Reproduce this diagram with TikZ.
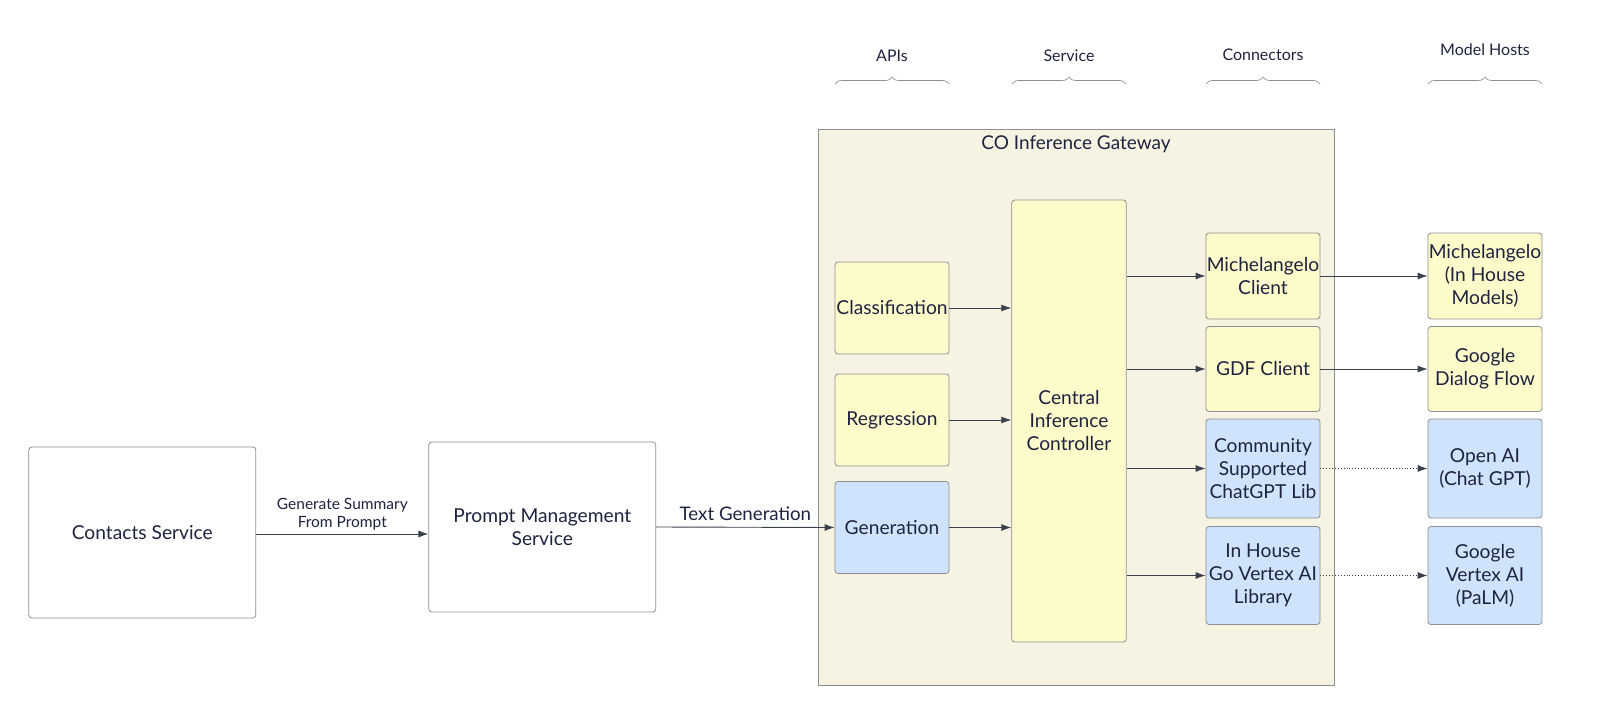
\documentclass[tikz,border=0pt]{standalone}
\usepackage{fontspec}
\setmainfont{Lato}
\usetikzlibrary{arrows.meta,decorations.pathreplacing,calc}
\definecolor{boxline}{HTML}{8C8F94}
\definecolor{yfill}{HTML}{FEFBCB}
\definecolor{bfill}{HTML}{CFE3FD}
\definecolor{gwfill}{HTML}{F7F3E3}
\definecolor{txt}{HTML}{1E2340}
\definecolor{arr}{HTML}{3B414C}
\tikzset{
  box/.style={draw=boxline, line width=0.8pt, rounded corners=3pt, align=center, text=txt,
    font=\fontsize{19.2}{23}\selectfont, inner sep=0pt},
  ybox/.style={box, fill=yfill},
  bbox/.style={box, fill=bfill},
  wbox/.style={box, fill=white},
  conn/.style={draw=arr, line width=0.9pt, -{Latex[length=10pt,width=7pt]}},
  dconn/.style={draw=arr, line width=0.9pt, dotted, -{Latex[length=10pt,width=7pt,sep=0pt]}},
  hdr/.style={text=txt, font=\fontsize{16}{18}\selectfont},
  brc/.style={draw=boxline, line width=0.7pt, decorate, decoration={brace, amplitude=7pt}},
}
\begin{document}
\begin{tikzpicture}[x=1pt,y=-1pt]
\useasboundingbox (0,0) rectangle (1600,714);
% gateway
\node[draw=boxline, line width=0.8pt, fill=gwfill, minimum width=516pt, minimum height=556pt, inner sep=0pt] (gw) at (1076,407) {};
\node[text=txt, font=\fontsize{19}{22}\selectfont] (gwtitle) at (1076,144) {CO Inference Gateway};
% left boxes
\node[wbox, minimum width=227pt, minimum height=171pt] (contacts) at (142.3,532.5) {Contacts Service};
\node[wbox, minimum width=227pt, minimum height=170pt] (prompt) at (542.3,527) {Prompt Management\\Service};
% APIs
\node[ybox, minimum width=114pt, minimum height=92pt] (cls) at (892,308) {Classification};
\node[ybox, minimum width=114pt, minimum height=92pt] (reg) at (892,420) {Regression};
\node[bbox, minimum width=114pt, minimum height=92pt] (gen) at (892,527.5) {Generation};
% central
\node[ybox, minimum width=114.5pt, minimum height=442pt] (cic) at (1069,421) {Central\\Inference\\Controller};
% connectors
\node[ybox, minimum width=114pt, minimum height=86pt] (mc) at (1263,276) {Michelangelo\\Client};
\node[ybox, minimum width=114pt, minimum height=85pt] (gdf) at (1263,369) {GDF Client};
\node[bbox, minimum width=114pt, minimum height=99pt] (csl) at (1263,468.5) {Community\\Supported\\ChatGPT Lib};
\node[bbox, minimum width=114pt, minimum height=98pt] (ihl) at (1263,575.5) {In House\\Go Vertex AI\\Library};
% hosts
\node[ybox, minimum width=114pt, minimum height=86pt] (mh) at (1485,276) {Michelangelo\\(In House\\Models)};
\node[ybox, minimum width=114pt, minimum height=85pt] (gdfh) at (1485,369) {Google\\Dialog Flow};
\node[bbox, minimum width=114pt, minimum height=99pt] (oai) at (1485,468.5) {Open AI\\(Chat GPT)};
\node[bbox, minimum width=114pt, minimum height=98pt] (gva) at (1485,575.5) {Google\\Vertex AI\\(PaLM)};
% headers
\node[hdr] (hapi) at (892,56) {APIs};
\node[hdr] (hsvc) at (1069,56) {Service};
\node[hdr] (hcon) at (1263,55) {Connectors};
\node[hdr] (hmh) at (1485,50) {Model Hosts};
\coordinate (b1a) at (835,84); \coordinate (b1b) at (949,84);
\coordinate (b2a) at (1012,84); \coordinate (b2b) at (1126,84);
\coordinate (b3a) at (1206,84); \coordinate (b3b) at (1320,84);
\coordinate (b4a) at (1428,84); \coordinate (b4b) at (1542,84);
\draw[brc] (b1a) -- (b1b);
\draw[brc] (b2a) -- (b2b);
\draw[brc] (b3a) -- (b3b);
\draw[brc] (b4a) -- (b4b);
% arrows
\coordinate (cs) at ($(contacts.east)+(0,1.5)$);
\draw[conn] (cs) -- (cs -| prompt.west)
  node[midway, above=0pt, align=center, text=txt, font=\fontsize{15.5}{18.4}\selectfont] {Generate Summary\\From Prompt};
\draw[conn] (prompt.east) -- (gen.west)
  node[midway, above=3pt, text=txt, font=\fontsize{18.7}{22}\selectfont] {Text Generation};
\draw[conn] (cls.east) -- (cls.east -| cic.west);
\draw[conn] (reg.east) -- (reg.east -| cic.west);
\draw[conn] (gen.east) -- (gen.east -| cic.west);
\draw[conn] (mc.west -| cic.east) -- (mc.west);
\draw[conn] (gdf.west -| cic.east) -- (gdf.west);
\draw[conn] (csl.west -| cic.east) -- (csl.west);
\draw[conn] (ihl.west -| cic.east) -- (ihl.west);
\draw[conn] (mc.east) -- (mh.west);
\draw[conn] (gdf.east) -- (gdfh.west);
\draw[dconn] (csl.east) -- (oai.west);
\draw[dconn] (ihl.east) -- (gva.west);
\end{tikzpicture}
\end{document}
